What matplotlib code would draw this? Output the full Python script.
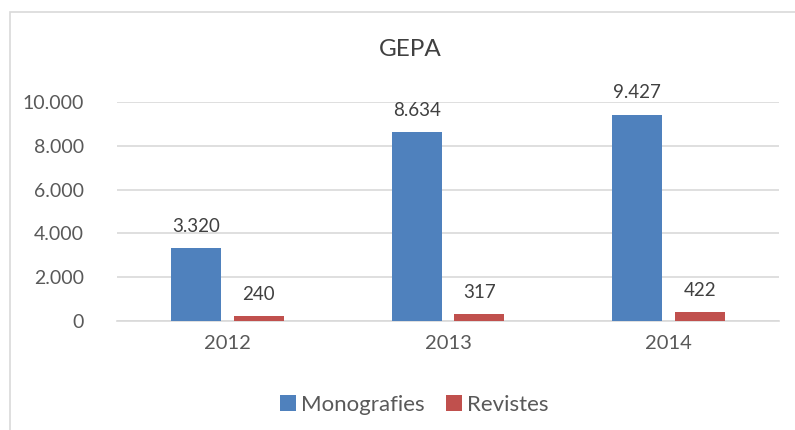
import matplotlib
matplotlib.use("Agg")
import matplotlib.pyplot as plt
import numpy as np
from matplotlib.patches import Rectangle

plt.rcParams['font.family'] = ['Lato', 'DejaVu Sans']

years = ["2012", "2013", "2014"]
monografies = [3320, 8634, 9427]
revistes = [240, 317, 422]
series_names = ["Monografies", "Revistes"]
yticks = [0, 2000, 4000, 6000, 8000, 10000]
ytick_labels = ["0", "2.000", "4.000", "6.000", "8.000", "10.000"]

def fmt(v):
    return f"{v:,}".replace(",", ".")

blue = "#4F81BD"
red = "#C0504D"
txt = "#404040"
tick_col = "#595959"

fig = plt.figure(figsize=(7.95, 4.3), dpi=100)
fig.patches.append(Rectangle((10/795, -0.01), 1.0, 1 - 12/430 + 0.01, transform=fig.transFigure,
                             fill=False, edgecolor="#D9D9D9", linewidth=1.2))

ax = fig.add_axes([117/795, 1 - 321/430, (779 - 117)/795, (321 - 102)/430])
x = np.arange(len(years))
w = 0.226
off = 0.142
b1 = ax.bar(x - off, monografies, w, color=blue, label=series_names[0], zorder=3)
b2 = ax.bar(x + off, revistes, w, color=red, label=series_names[1], zorder=3)

for rect, v in zip(b1, monografies):
    ax.text(rect.get_x() + rect.get_width()/2, v + 600, fmt(v), ha="center", va="bottom",
            fontsize=13.5, color=txt)
for rect, v in zip(b2, revistes):
    ax.text(rect.get_x() + rect.get_width()/2, v + 600, fmt(v), ha="center", va="bottom",
            fontsize=13.5, color=txt)

ax.set_xlim(-0.5, 2.5)
ax.set_ylim(0, 10000)
ax.set_yticks(yticks)
ax.set_yticklabels(ytick_labels, fontsize=14, color=tick_col)
ax.set_xticks(x)
ax.set_xticklabels(years, fontsize=14.5, color=tick_col)
ax.tick_params(axis="both", length=0)
ax.tick_params(axis="y", pad=24)
ax.tick_params(axis="x", pad=10)
ax.grid(axis="y", color="#D9D9D9", linewidth=1.2, zorder=0)
for s in ["top", "right", "left"]:
    ax.spines[s].set_visible(False)
ax.spines["bottom"].set_color("#D9D9D9")
ax.spines["bottom"].set_linewidth(1.2)

fig.text(410/795, 1 - 50/430, "GEPA", ha="center", va="center", fontsize=17.5, color=txt)

fig.legend(handles=[b1, b2], labels=series_names, loc="center", bbox_to_anchor=(414/795, 1 - 405/430),
           ncol=2, frameon=False, fontsize=16, handlelength=0.75, handleheight=0.75,
           handletextpad=0.2, columnspacing=0.95, labelcolor=tick_col)

fig.savefig("out.png", dpi=100)
